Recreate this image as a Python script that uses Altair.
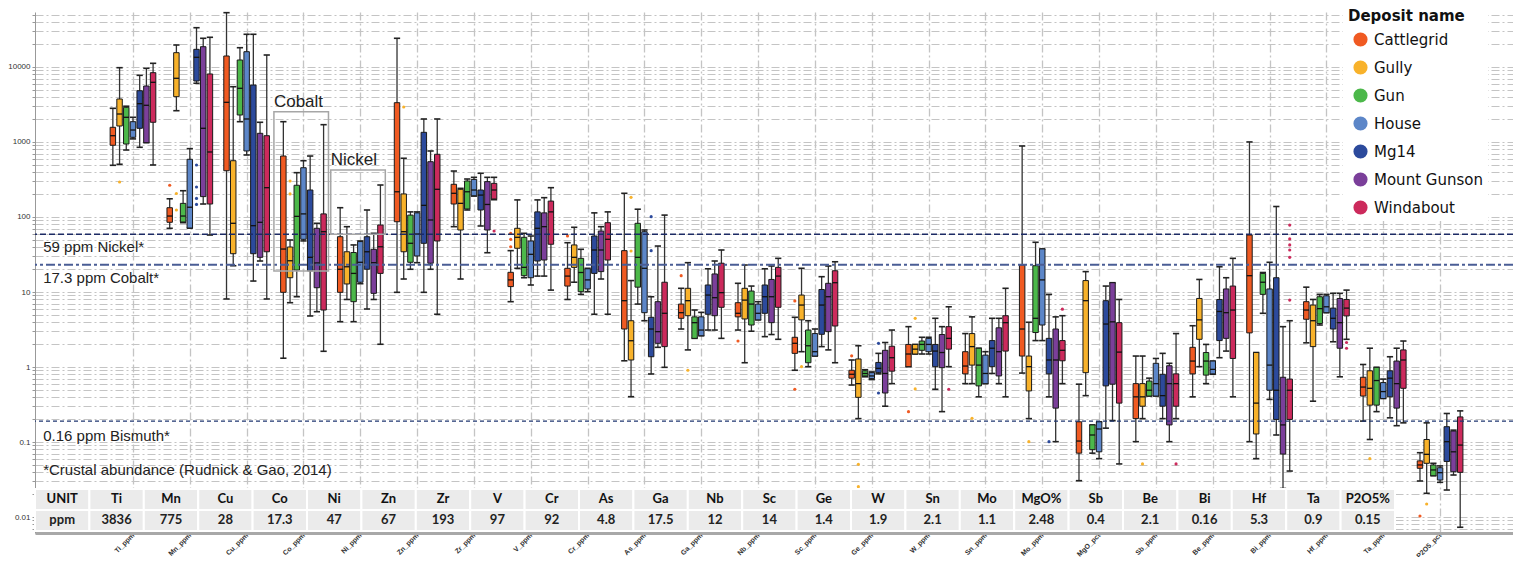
import json
import altair as alt
import pandas as pd

# ---------------- data ----------------
elements = ["Ti_ppm", "Mn_ppm", "Cu_ppm", "Co_ppm", "Ni_ppm", "Zn_ppm", "Zr_ppm", "V_ppm",
            "Cr_ppm", "As_ppm", "Ga_ppm", "Nb_ppm", "Sc_ppm", "Ge_ppm", "W_ppm", "Sn_ppm",
            "Mo_ppm", "MgO_pct", "Sb_ppm", "Be_ppm", "Bi_ppm", "Hf_ppm", "Ta_ppm", "P2O5_pct"]
deposits = ["Cattlegrid", "Gully", "Gun", "House", "Mg14", "Mount Gunson", "Windabout"]
colors = ["#f05a22", "#f8b22b", "#4cb84a", "#5c86c8", "#2c4a9c", "#7b3f9a", "#cc2a5c"]

# (whisker low, Q1, median, Q3, whisker high) per deposit, in deposit order
Ti = [(489, 904, 1213, 1570, 2813), (505, 1635, 2362, 3744, 9790), (782, 940, 2135, 2904, 3000),
      (1100, 1155, 1445, 1866, 2135), (850, 1523, 3243, 4830, 7745), (980, 980, 3086, 5580, 9610),
      (494, 1832, 6250, 8400, 11200)]
Mn = [(70.7, 85, 103, 133, 175), (2614, 4020, 7070, 15520, 19650), (84, 85.8, 103, 152, 224),
      (71, 71.3, 135, 588, 815), (6070, 6500, 13470, 17200, 33400), (149, 187, 1523, 18650, 24150),
      (57.5, 149, 736, 8070, 24900)]
Cu = [(8.07, 414, 3381, 14020, 53000), (22.4, 32.4, 82.4, 563, 5460), (1866, 2291, 5200, 12400, 18080),
      (671, 759, 2027, 16000, 27300), (14.0, 32.4, 76.6, 5750, 27300), (25.9, 29, 85, 1306, 1832),
      (8.07, 34.4, 246, 1213, 14450)]
Co = [(1.31, 9.9, 37.4, 650, 1866), (7.2, 15.5, 26.1, 39.8, 49.4), (8.65, 19.6, 102, 265, 390),
      (48, 50.4, 110, 454, 563), (4.79, 19.1, 29, 229, 650), (5.46, 11.4, 24.4, 70.7, 82.4),
      (1.62, 5.75, 63.7, 110, 1702)]
Ni = [(4.02, 9.9, 20.1, 54.6, 133), (7.95, 12.8, 21.7, 34.4, 74.3), (4.02, 7.43, 17.7, 33.6, 42.4),
      (12.9, 13.5, 24.9, 47, 47.9), (5.93, 20.1, 34.4, 54.6, 124), (7.95, 9.6, 24.6, 37.1, 60.6),
      (2.01, 17.7, 40.1, 78.2, 267)]
Zn = [(9.9, 86.5, 217, 3342, 24150), (14.9, 34.4, 63.7, 203, 607), (20.1, 24.9, 44.6, 106, 117),
      (24.6, 30.2, 59.3, 113.5, 117), (9.9, 44.6, 143, 1346, 2027), (20.1, 24.2, 91.2, 546, 759),
      (5.05, 47.9, 234, 686, 2027)]
Zr = [(74.3, 149, 207, 273, 410), (14.9, 67.1, 152, 234, 241), (124, 128, 217, 302, 321),
      (190, 192, 229, 317, 338), (75.9, 124, 196, 229, 383), (33.4, 67.1, 147, 296, 338),
      (170, 174, 229, 281, 338)]
V = [(7.43, 11.8, 14.5, 18.3, 35.6), (20.7, 38.3, 53.6, 70.7, 169), (15.5, 16.5, 21.3, 53.6, 60.6),
     (12.4, 15.5, 31.8, 47.9, 55.8), (16.3, 25.9, 70.7, 117, 169), (16.3, 26.7, 74.3, 113.5, 181),
     (10.6, 43.3, 117, 163, 246)]
Cr = [(7.95, 12.0, 16.3, 20.7, 45.4), (13.5, 21.3, 29, 42.4, 72.9), (9.3, 10.1, 18.2, 28.1, 37.1),
      (10.1, 10.98, 14.5, 20.4, 20.7), (5.05, 17.7, 36.3, 55.8, 113.5), (14.9, 18.7, 36.3, 65, 74.3),
      (5.05, 26.7, 50.4, 84, 117)]
As = [(1.21, 3.21, 7.66, 35.6, 207), (0.402, 1.24, 2.24, 4.14, 14.2), (6.9, 11.6, 29, 82.4, 127),
      (4.14, 5.3, 20.7, 63.7, 67.1), (0.807, 1.37, 3.21, 4.6, 8.65), (1.83, 2.07, 2.96, 7.43, 41),
      (0.99, 1.87, 5.2, 13.5, 106)]
Ga = [(3.21, 4.46, 5.3, 6.9, 11.2), (1.69, 4.83, 7.66, 11.2, 24.6), (2.41, 2.41, 3.9, 4.66, 5.75),
      (2.61, 2.61, 3.11, 4.66, 5.35), (3.11, 5.05, 9.1, 12.4, 20.4), (3.11, 4.83, 8.4, 17.4, 25.9),
      (2.41, 6.25, 9.8, 24.2, 36.3)]
Nb = [(3.11, 4.66, 5.2, 7.2, 13.06), (1.14, 4.37, 7.8, 11.2, 22.9), (3.0, 3.63, 6.9, 10.3, 12.0),
      (4.25, 4.25, 5.2, 6.9, 7.43), (2.54, 5.2, 8.65, 12.4, 20.4), (2.71, 3.9, 8.65, 14.7, 22.2),
      (2.34, 6.25, 16.3, 21.3, 28.1)]
Sc = [(0.905, 1.52, 2.07, 2.49, 4.6), (1.6, 4.25, 6.7, 9.1, 20.7), (1.01, 1.14, 1.92, 3.11, 4.14),
      (1.4, 1.4, 1.6, 2.79, 3.21), (1.87, 2.73, 6.7, 10.8, 16.0), (1.69, 2.96, 8.65, 13.06, 22.2),
      (1.14, 3.52, 13.3, 19.2, 25.3)]
Ge = [(0.575, 0.71, 0.8, 0.905, 1.24), (0.205, 0.394, 0.6, 1.28, 1.92), (0.74, 0.76, 0.82, 0.89, 0.92),
      (0.68, 0.7, 0.76, 0.84, 0.86), (0.81, 0.84, 0.96, 1.15, 1.52), (0.3, 0.45, 0.82, 1.67, 2.12),
      (0.6, 0.88, 1.33, 1.89, 3.11)]
W = [(1.01, 1.01, 1.49, 2.0, 3.45), (1.49, 1.49, 1.73, 2.0, 2.0), (1.49, 1.67, 2.0, 2.22, 2.49),
     (1.49, 1.6, 2.0, 2.41, 2.49), (0.505, 1.01, 1.63, 2.0, 4.46), (0.254, 0.98, 1.56, 2.71, 3.45),
     (1.01, 1.73, 2.41, 3.45, 6.35)]
Sn = [(0.6, 0.81, 1.03, 1.6, 2.79), (0.6, 1.06, 1.87, 2.79, 4.66), (0.4, 0.56, 1.06, 1.78, 1.78),
      (0.6, 0.6, 0.82, 1.44, 1.6), (0.82, 1.01, 1.78, 2.25, 4.46), (0.6, 0.76, 1.6, 3.33, 4.46),
      (0.4, 1.63, 3.9, 4.83, 11.2)]
Mo = [(0.83, 1.4, 3.21, 22.9, 885), (0.205, 0.48, 1.01, 1.4, 3.95), (2.25, 2.88, 4.46, 22.4, 46),
      (2.25, 3.63, 14.5, 37.5, 37.5), (0.4, 0.81, 1.24, 2.41, 9.3), (0.101, 0.283, 1.24, 3.21, 4.66),
      (0.6, 1.21, 1.67, 2.25, 4.83)]
MgO = [(0.0305, 0.071, 0.103, 0.186, 0.59), (0.415, 0.84, 7.66, 14.2, 18.7), (0.071, 0.079, 0.124, 0.169, 0.169),
       (0.06, 0.074, 0.149, 0.186, 0.186), (0.153, 0.56, 3.74, 7.66, 12.0), (0.192, 0.59, 4.0, 13.3, 13.3),
       (0.051, 0.33, 1.58, 3.9, 7.95)]
Sb = [(0.101, 0.205, 0.4, 0.6, 1.4), (0.205, 0.3, 0.4, 0.6, 1.4), (0.41, 0.41, 0.49, 0.65, 0.71),
      (0.41, 0.41, 0.6, 1.12, 1.3), (0.205, 0.3, 0.415, 0.8, 1.52), (0.101, 0.169, 0.6, 1.04, 1.12),
      (0.205, 0.3, 0.6, 0.81, 2.79)]
Be = [(0.4, 0.81, 1.2, 1.83, 3.55), (1.01, 2.34, 4.25, 8.2, 14.7), (0.6, 0.78, 1.2, 1.56, 2.0),
      (0.8, 0.81, 0.93, 1.2, 1.2), (1.33, 2.25, 5.5, 7.95, 21.7), (1.63, 2.41, 5.3, 10.98, 15.5),
      (0.4, 1.3, 5.75, 12.0, 28.1)]
Bi = [(0.101, 2.85, 16.5, 57.5, 1002), (0.06, 0.128, 0.33, 1.56, 1.56), (5.2, 9.3, 13.5, 17.7, 18.2),
      (0.37, 0.49, 1.06, 10.98, 24.9), (0.124, 0.2, 0.49, 15.5, 138), (0.024, 0.069, 0.169, 0.73, 3.45),
      (0.041, 0.2, 0.49, 0.69, 4.14)]
Hf = [(2.1, 4.33, 5.75, 7.43, 11.6), (0.35, 1.87, 4.14, 6.7, 7.95), (3.63, 3.8, 6.0, 8.65, 9.3),
      (5.3, 5.3, 6.35, 8.9, 9.3), (2.17, 3.21, 4.46, 6.1, 9.6), (0.74, 1.78, 3.9, 8.2, 9.6),
      (2.34, 4.8, 6.1, 7.95, 10.6)]
Ta = [(0.19, 0.41, 0.54, 0.73, 1.08), (0.108, 0.31, 0.52, 0.89, 1.78), (0.254, 0.31, 0.66, 0.99, 0.99),
      (0.38, 0.38, 0.47, 0.62, 0.69), (0.21, 0.4, 0.71, 0.89, 1.37), (0.165, 0.283, 0.6, 1.2, 1.78),
      (0.18, 0.52, 1.24, 1.69, 2.22)]
P2O5 = [(0.0302, 0.0446, 0.0494, 0.056, 0.072), (0.0207, 0.052, 0.0685, 0.108, 0.18),
        (0.0355, 0.0355, 0.0424, 0.0494, 0.052), (0.029, 0.0311, 0.039, 0.0454, 0.048),
        (0.0229, 0.055, 0.101, 0.16, 0.24), (0.0363, 0.0401, 0.074, 0.14, 0.144),
        (0.0073, 0.0394, 0.091, 0.216, 0.26)]

box_stats = [Ti, Mn, Cu, Co, Ni, Zn, Zr, V, Cr, As, Ga, Nb, Sc, Ge, W, Sn, Mo, MgO, Sb, Be, Bi, Hf, Ta, P2O5]

# outliers: (element, deposit, value)
outliers = [
    ("Ti_ppm", "Gully", 293),
    ("Mn_ppm", "Cattlegrid", 265), ("Mn_ppm", "Gully", 206), ("Mn_ppm", "Gully", 124),
    ("Mn_ppm", "Mg14", 494), ("Mn_ppm", "Mg14", 251), ("Mn_ppm", "Mg14", 177), ("Mn_ppm", "Mg14", 147),
    ("Co_ppm", "Gully", 302), ("Co_ppm", "Gully", 203),
    ("Zn_ppm", "Gully", 2930),
    ("Zr_ppm", "Windabout", 65),
    ("V_ppm", "Cattlegrid", 60.6), ("V_ppm", "Cattlegrid", 50.4), ("V_ppm", "Cattlegrid", 40.1),
    ("Cr_ppm", "Cattlegrid", 55.8),
    ("As_ppm", "Gully", 183), ("As_ppm", "Gully", 35.2), ("As_ppm", "Mg14", 101), ("As_ppm", "Mg14", 35.6),
    ("Ga_ppm", "Cattlegrid", 16.5), ("Ga_ppm", "Gully", 0.905),
    ("Nb_ppm", "Cattlegrid", 2.22),
    ("Sc_ppm", "Cattlegrid", 7.6), ("Sc_ppm", "Cattlegrid", 0.505), ("Sc_ppm", "Gully", 1.01),
    ("Ge_ppm", "Cattlegrid", 1.41), ("Ge_ppm", "Gully", 0.0504), ("Ge_ppm", "Gully", 0.0254),
    ("Ge_ppm", "Mg14", 2.07), ("Ge_ppm", "Mg14", 0.45),
    ("W_ppm", "Cattlegrid", 0.254), ("W_ppm", "Gully", 4.46), ("W_ppm", "Gully", 0.51), ("W_ppm", "Windabout", 0.505),
    ("Sn_ppm", "Gully", 0.207),
    ("Mo_ppm", "Gully", 0.101), ("Mo_ppm", "Mg14", 0.101), ("Mo_ppm", "Windabout", 5.9),
    ("Sb_ppm", "Gully", 0.051), ("Sb_ppm", "Windabout", 0.051),
    ("Bi_ppm", "Windabout", 78), ("Bi_ppm", "Windabout", 51), ("Bi_ppm", "Windabout", 42.4),
    ("Bi_ppm", "Windabout", 36.3), ("Bi_ppm", "Windabout", 29), ("Bi_ppm", "Windabout", 7.8),
    ("Hf_ppm", "Windabout", 2.12), ("Hf_ppm", "Windabout", 1.78),
    ("Ta_ppm", "Gully", 0.06),
    ("P2O5_pct", "Cattlegrid", 0.0103), ("P2O5_pct", "Gully", 0.0149),
]

# crustal-abundance reference lines (value as drawn)
ref_values = [59, 23, 0.19]
ref_labels = ["59 ppm Nickel*", "17.3 ppm Cobalt*", "0.16 ppm Bismuth*", "*Crustal abundance (Rudnick & Gao, 2014)"]
ref_label_y = [39.8, 15.4, 0.12, 0.042]

# highlighted groups: element, label, top, bottom
highlight_el = ["Co_ppm", "Ni_ppm"]
highlight_label = ["Cobalt", "Nickel"]
highlight_top = [2535, 423]
highlight_bottom = [19.05, 59]

# table under the plot
table_header = ["UNIT", "Ti", "Mn", "Cu", "Co", "Ni", "Zn", "Zr", "V", "Cr", "As", "Ga", "Nb",
                "Sc", "Ge", "W", "Sn", "Mo", "MgO%", "Sb", "Be", "Bi", "Hf", "Ta", "P2O5%"]
table_values = ["ppm", "3836", "775", "28", "17.3", "47", "67", "193", "97", "92", "4.8", "17.5",
                "12", "14", "1.4", "1.9", "2.1", "1.1", "2.48", "0.4", "2.1", "0.16", "5.3", "0.9", "0.15"]

# ---------------- layout constants ----------------
W_PLOT, H_PLOT = 1478, 521
X_LO, X_HI = -1.724, 24.283
Y_LO, Y_HI = 10 ** -2.2133, 10 ** 4.7333
DEP_STEP = 0.118
BOX_HALF = 0.048
CAP_HALF = 0.055
T_XMAX = W_PLOT / 54.4
T_YMAX = H_PLOT / 21.0

# ---------------- frames ----------------
rows = []
for gi, (el, st) in enumerate(zip(elements, box_stats)):
    for di, dep in enumerate(deposits):
        lo, q1, md, q3, hi = st[di]
        rows.append(dict(element=el, gi=gi, deposit=dep, di=di, lo=lo, q1=q1, med=md, q3=q3, hi=hi))
df = pd.DataFrame(rows)

odf = pd.DataFrame([dict(element=e, gi=elements.index(e), deposit=d, di=deposits.index(d), val=v)
                    for e, d, v in outliers])

xs = alt.Scale(domain=[X_LO, X_HI], nice=False, zero=False)
ys = alt.Scale(type="log", domain=[Y_LO, Y_HI], nice=False)
cs = alt.Scale(domain=deposits, range=colors)

yticks = [m * 10 ** k for k in range(-3, 5) for m in range(1, 10) if Y_LO <= m * 10 ** k <= Y_HI]
xlabel_expr = json.dumps(elements) + "[datum.value]"

legend = alt.Legend(
    title="Deposit name", orient="none", legendX=1308, legendY=-8,
    symbolType="circle", symbolSize=200, symbolStrokeWidth=0, symbolOffset=5,
    labelFont="DejaVu Sans", labelFontSize=15, labelColor="#111", labelOffset=6,
    titleFont="DejaVu Sans", titleFontSize=15, titleFontWeight="bold", titleColor="#111",
    titlePadding=8, rowPadding=12, padding=5, fillColor="white", labelLimit=300,
)

base = alt.Chart(df).transform_calculate(
    pos=f"datum.gi + (datum.di - 3) * {DEP_STEP}"
).transform_calculate(
    bl=f"datum.pos - {BOX_HALF}", br=f"datum.pos + {BOX_HALF}",
    cl=f"datum.pos - {CAP_HALF}", cr=f"datum.pos + {CAP_HALF}",
)

xaxis = alt.Axis(
    values=list(range(len(elements))), labelExpr=xlabel_expr, title=None,
    labelAngle=-45, labelAlign="right", labelBaseline="middle", labelPadding=1,
    labelFont="Liberation Sans", labelFontSize=7, labelFontWeight="bold", labelColor="#333",
    ticks=False, grid=True, gridColor="#c4c4c4", gridDash=[8, 3, 2, 3], gridWidth=1.3,
    domainColor="#a8a8a8", domainWidth=3,
)
yaxis = alt.Axis(
    values=yticks, title=None,
    labelExpr="abs(log(datum.value)/LN10 - round(log(datum.value)/LN10)) < 0.001 ? format(datum.value, '~g') : ''",
    labelFont="Liberation Sans", labelFontSize=8, labelColor="#333",
    tickColor="#999", tickSize=3, domainColor="#999",
    grid=True, gridColor="#c4c4c4", gridDash=[8, 3, 2, 3], gridWidth=1.2,
)

whisker = base.mark_rule(color="#333", strokeWidth=1.3).encode(
    x=alt.X("pos:Q", scale=xs, axis=xaxis),
    y=alt.Y("lo:Q", scale=ys, axis=yaxis),
    y2="hi:Q",
)
cap_hi = base.mark_rule(color="#222", strokeWidth=1.6).encode(
    x=alt.X("cl:Q", scale=xs), x2="cr:Q", y=alt.Y("hi:Q", scale=ys))
cap_lo = base.mark_rule(color="#222", strokeWidth=1.6).encode(
    x=alt.X("cl:Q", scale=xs), x2="cr:Q", y=alt.Y("lo:Q", scale=ys))
boxes = base.mark_rect(stroke="#1a1a1a", strokeWidth=1).encode(
    x=alt.X("bl:Q", scale=xs), x2="br:Q",
    y=alt.Y("q1:Q", scale=ys), y2="q3:Q",
    color=alt.Color("deposit:N", scale=cs, legend=legend),
)
medians = base.mark_rule(color="#111", strokeWidth=1.3).encode(
    x=alt.X("bl:Q", scale=xs), x2="br:Q", y=alt.Y("med:Q", scale=ys))

outl = alt.Chart(odf).transform_calculate(
    pos=f"datum.gi + (datum.di - 3) * {DEP_STEP}"
).mark_circle(size=10, opacity=1).encode(
    x=alt.X("pos:Q", scale=xs), y=alt.Y("val:Q", scale=ys),
    color=alt.Color("deposit:N", scale=cs, legend=legend),
)

ref_styles = [("#1c2a64", [6, 3], 1.6), ("#4a5d95", [9, 3, 3, 3], 2.0), ("#1f3670", [4, 3], 1.3)]
ref_layers = []
for v, (c, dash, w) in zip(ref_values, ref_styles):
    ref_layers.append(alt.Chart(pd.DataFrame({"v": [v]})).mark_rule(
        color=c, strokeDash=dash, strokeWidth=w).encode(y=alt.Y("v:Q", scale=ys)))

ann_df = pd.DataFrame({"txt": ref_labels, "yv": ref_label_y, "xv": [-1.58] * len(ref_labels)})
ann = alt.Chart(ann_df).mark_text(
    align="left", baseline="middle", font="Liberation Sans", fontSize=15, color="#222"
).encode(x=alt.X("xv:Q", scale=xs), y=alt.Y("yv:Q", scale=ys), text="txt:N")

hl_df = pd.DataFrame({
    "gi": [elements.index(e) for e in highlight_el], "lab": highlight_label,
    "top": highlight_top, "bot": highlight_bottom,
})
hl_base = alt.Chart(hl_df).transform_calculate(
    x1="datum.gi - 0.52", x2="datum.gi + 0.44"
)
hl_rect = hl_base.mark_rect(fillOpacity=0, stroke="#a6a6a6", strokeWidth=1.5).encode(
    x=alt.X("x1:Q", scale=xs), x2="x2:Q", y=alt.Y("top:Q", scale=ys), y2="bot:Q")
hl_text = hl_base.mark_text(
    align="left", baseline="bottom", dy=-1, font="Liberation Sans", fontSize=17, color="#222"
).encode(x=alt.X("x1:Q", scale=xs), y=alt.Y("top:Q", scale=ys), text="lab:N")

main = alt.layer(whisker, cap_hi, cap_lo, boxes, medians, outl, *ref_layers, ann, hl_rect, hl_text)

# table
trows = []
for i, (h, v) in enumerate(zip(table_header, table_values)):
    trows.append(dict(c0=i, c1=i + 1, cm=i + 0.5, r0=1.1, r1=2.1, rm=1.6, txt=h, kind="head"))
    trows.append(dict(c0=i, c1=i + 1, cm=i + 0.5, r0=0.1, r1=1.1, rm=0.6, txt=v, kind="val"))
tdf = pd.DataFrame(trows)
txs = alt.Scale(domain=[0, T_XMAX], nice=False, zero=False)
tys = alt.Scale(domain=[0, T_YMAX], nice=False, zero=False)
tbase = alt.Chart(tdf)
t_rect = tbase.mark_rect(fill="#ebebeb", stroke="white", strokeWidth=2).encode(
    x=alt.X("c0:Q", scale=txs, axis=None), x2="c1:Q",
    y=alt.Y("r0:Q", scale=tys, axis=None), y2="r1:Q")
t_head = tbase.transform_filter("datum.kind == 'head'").mark_text(
    font="Lato", fontSize=13, fontWeight="bold", color="#111", baseline="middle", align="center"
).encode(x=alt.X("cm:Q", scale=txs, axis=None), y=alt.Y("rm:Q", scale=tys, axis=None), text="txt:N")
t_val = tbase.transform_filter("datum.kind == 'val'").mark_text(
    font="Lato", fontSize=13, fontWeight="bold", color="#222", baseline="middle", align="center"
).encode(x=alt.X("cm:Q", scale=txs, axis=None), y=alt.Y("rm:Q", scale=tys, axis=None), text="txt:N")
table = alt.layer(t_rect, t_head, t_val)

chart = alt.layer(main, table).resolve_scale(x="independent", y="independent").properties(
    width=W_PLOT, height=H_PLOT,
    autosize=alt.AutoSizeParams(type="none"),
    padding={"left": 27, "top": 4, "right": 0, "bottom": 24},
    background="white",
).configure_view(stroke=None)

chart.save("out.html", embed_options={"renderer": "svg", "actions": False})
